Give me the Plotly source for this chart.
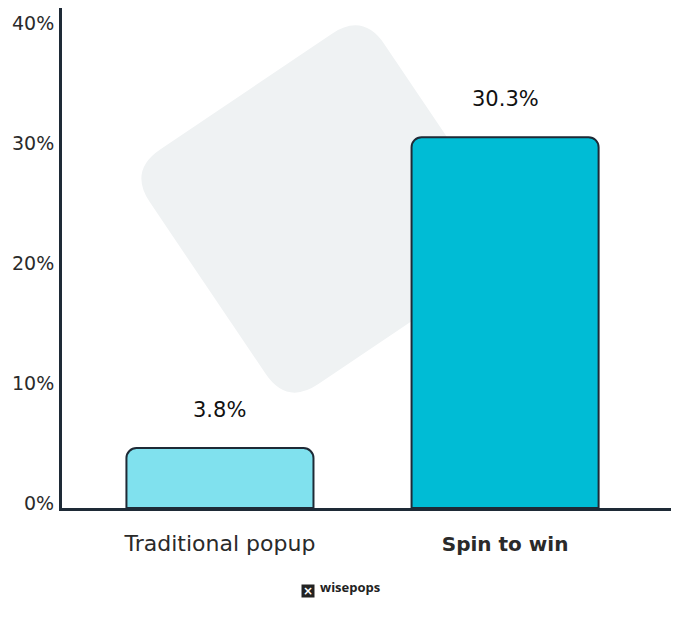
import math

import plotly.graph_objects as go

# data
categories = ["Traditional popup", "Spin to win"]
tick_text = ["Traditional popup", "<span style='font-size:20px'><b>Spin to win</b></span>"]
bar_heights = [5.0, 30.9]          # drawn bar heights (% scale)
bar_labels = ["3.8%", "30.3%"]     # printed value labels
bar_colors = ["#80E1EE", "#00BCD5"]
y_ticks = [0, 10, 20, 30, 40]
y_tick_text = ["0%", "10%", "20%", "30%", "40%"]

# page body has an 8px margin, so the figure is a bit smaller than the window
OFF = 8
W, H = 679 - OFF, 621 - OFF
L, R, T, B = 54, 0, 0, 113
PW, PH = W - L - R, H - T - B
INK = "#1E2A36"
FONT = "DejaVu Sans"


def to_paper(px, py):
    # page pixel -> paper fraction
    return (px - OFF - L) / PW, (H - B - (py - OFF)) / PH


def rounded_square(cx, cy, half_diag, angle_deg, r):
    # corners in pixel space, going round the square
    pts = []
    for k in range(4):
        a = math.radians(angle_deg + 90 * k)
        pts.append((cx + half_diag * math.sin(a), cy - half_diag * math.cos(a)))
    path = ""
    n = len(pts)
    for i in range(n):
        p0, p1, p2 = pts[i - 1], pts[i], pts[(i + 1) % n]
        d1 = math.dist(p0, p1)
        d2 = math.dist(p1, p2)
        a = (p1[0] + (p0[0] - p1[0]) * r / d1, p1[1] + (p0[1] - p1[1]) * r / d1)
        b = (p1[0] + (p2[0] - p1[0]) * r / d2, p1[1] + (p2[1] - p1[1]) * r / d2)
        ax, ay = to_paper(*a)
        bx, by = to_paper(*b)
        cx1, cy1 = to_paper(*p1)
        path += ("M" if i == 0 else "L") + f"{ax:.4f},{ay:.4f} "
        path += f"Q{cx1:.4f},{cy1:.4f} {bx:.4f},{by:.4f} "
    return path + "Z"


fig = go.Figure(
    go.Bar(
        x=categories,
        y=bar_heights,
        width=0.656,
        marker=dict(color=bar_colors, line=dict(color=INK, width=2), cornerradius=10),
        hoverinfo="skip",
    )
)

for cat, h, lab in zip(categories, bar_heights, bar_labels):
    fig.add_annotation(
        x=cat, y=h, text=lab, showarrow=False, yanchor="bottom", yshift=24,
        font=dict(family=FONT, size=21, color="#111111"),
    )

# grey decorative tile behind the bars
fig.add_shape(
    type="path",
    path=rounded_square(325, 209, 200, 11, 38),
    xref="paper", yref="paper",
    fillcolor="#EFF2F3", line=dict(width=0), layer="below",
)

# wisepops mark
mx, my = to_paper(308, 598)
fig.add_annotation(x=mx, y=my, xref="paper", yref="paper", text="<b>×</b>", showarrow=False,
                   bgcolor="#222222", borderpad=0, width=12, height=12,
                   font=dict(family="DejaVu Sans", size=12, color="white"))
tx, ty = to_paper(318, 598)
fig.add_annotation(x=tx, y=ty, xref="paper", yref="paper", text="<b>wisepops</b>",
                   showarrow=False, xanchor="left",
                   font=dict(family="Open Sans", size=13, color="#222222"))

fig.update_layout(
    width=W, height=H,
    margin=dict(l=L, r=R, t=T, b=B),
    plot_bgcolor="white", paper_bgcolor="white",
    showlegend=False,
    font=dict(family=FONT, color="#2A2A2A"),
    xaxis=dict(
        type="category", range=[-0.554, 1.61], automargin=False,
        tickvals=categories, ticktext=tick_text,
        showline=True, linecolor=INK, linewidth=3,
        showgrid=False, ticks="", ticklabelstandoff=14,
        tickfont=dict(family=FONT, size=22, color="#2A2A2A"),
    ),
    yaxis=dict(
        range=[0, 41.67], tickvals=y_ticks, ticktext=y_tick_text, automargin=False,
        showline=True, linecolor=INK, linewidth=3,
        showgrid=False, zeroline=False, ticks="", ticklabelstandoff=1,
        ticklabelshift=-5,
        tickfont=dict(family=FONT, size=19, color="#2A2A2A"),
    ),
)

fig.write_html("out.html")
